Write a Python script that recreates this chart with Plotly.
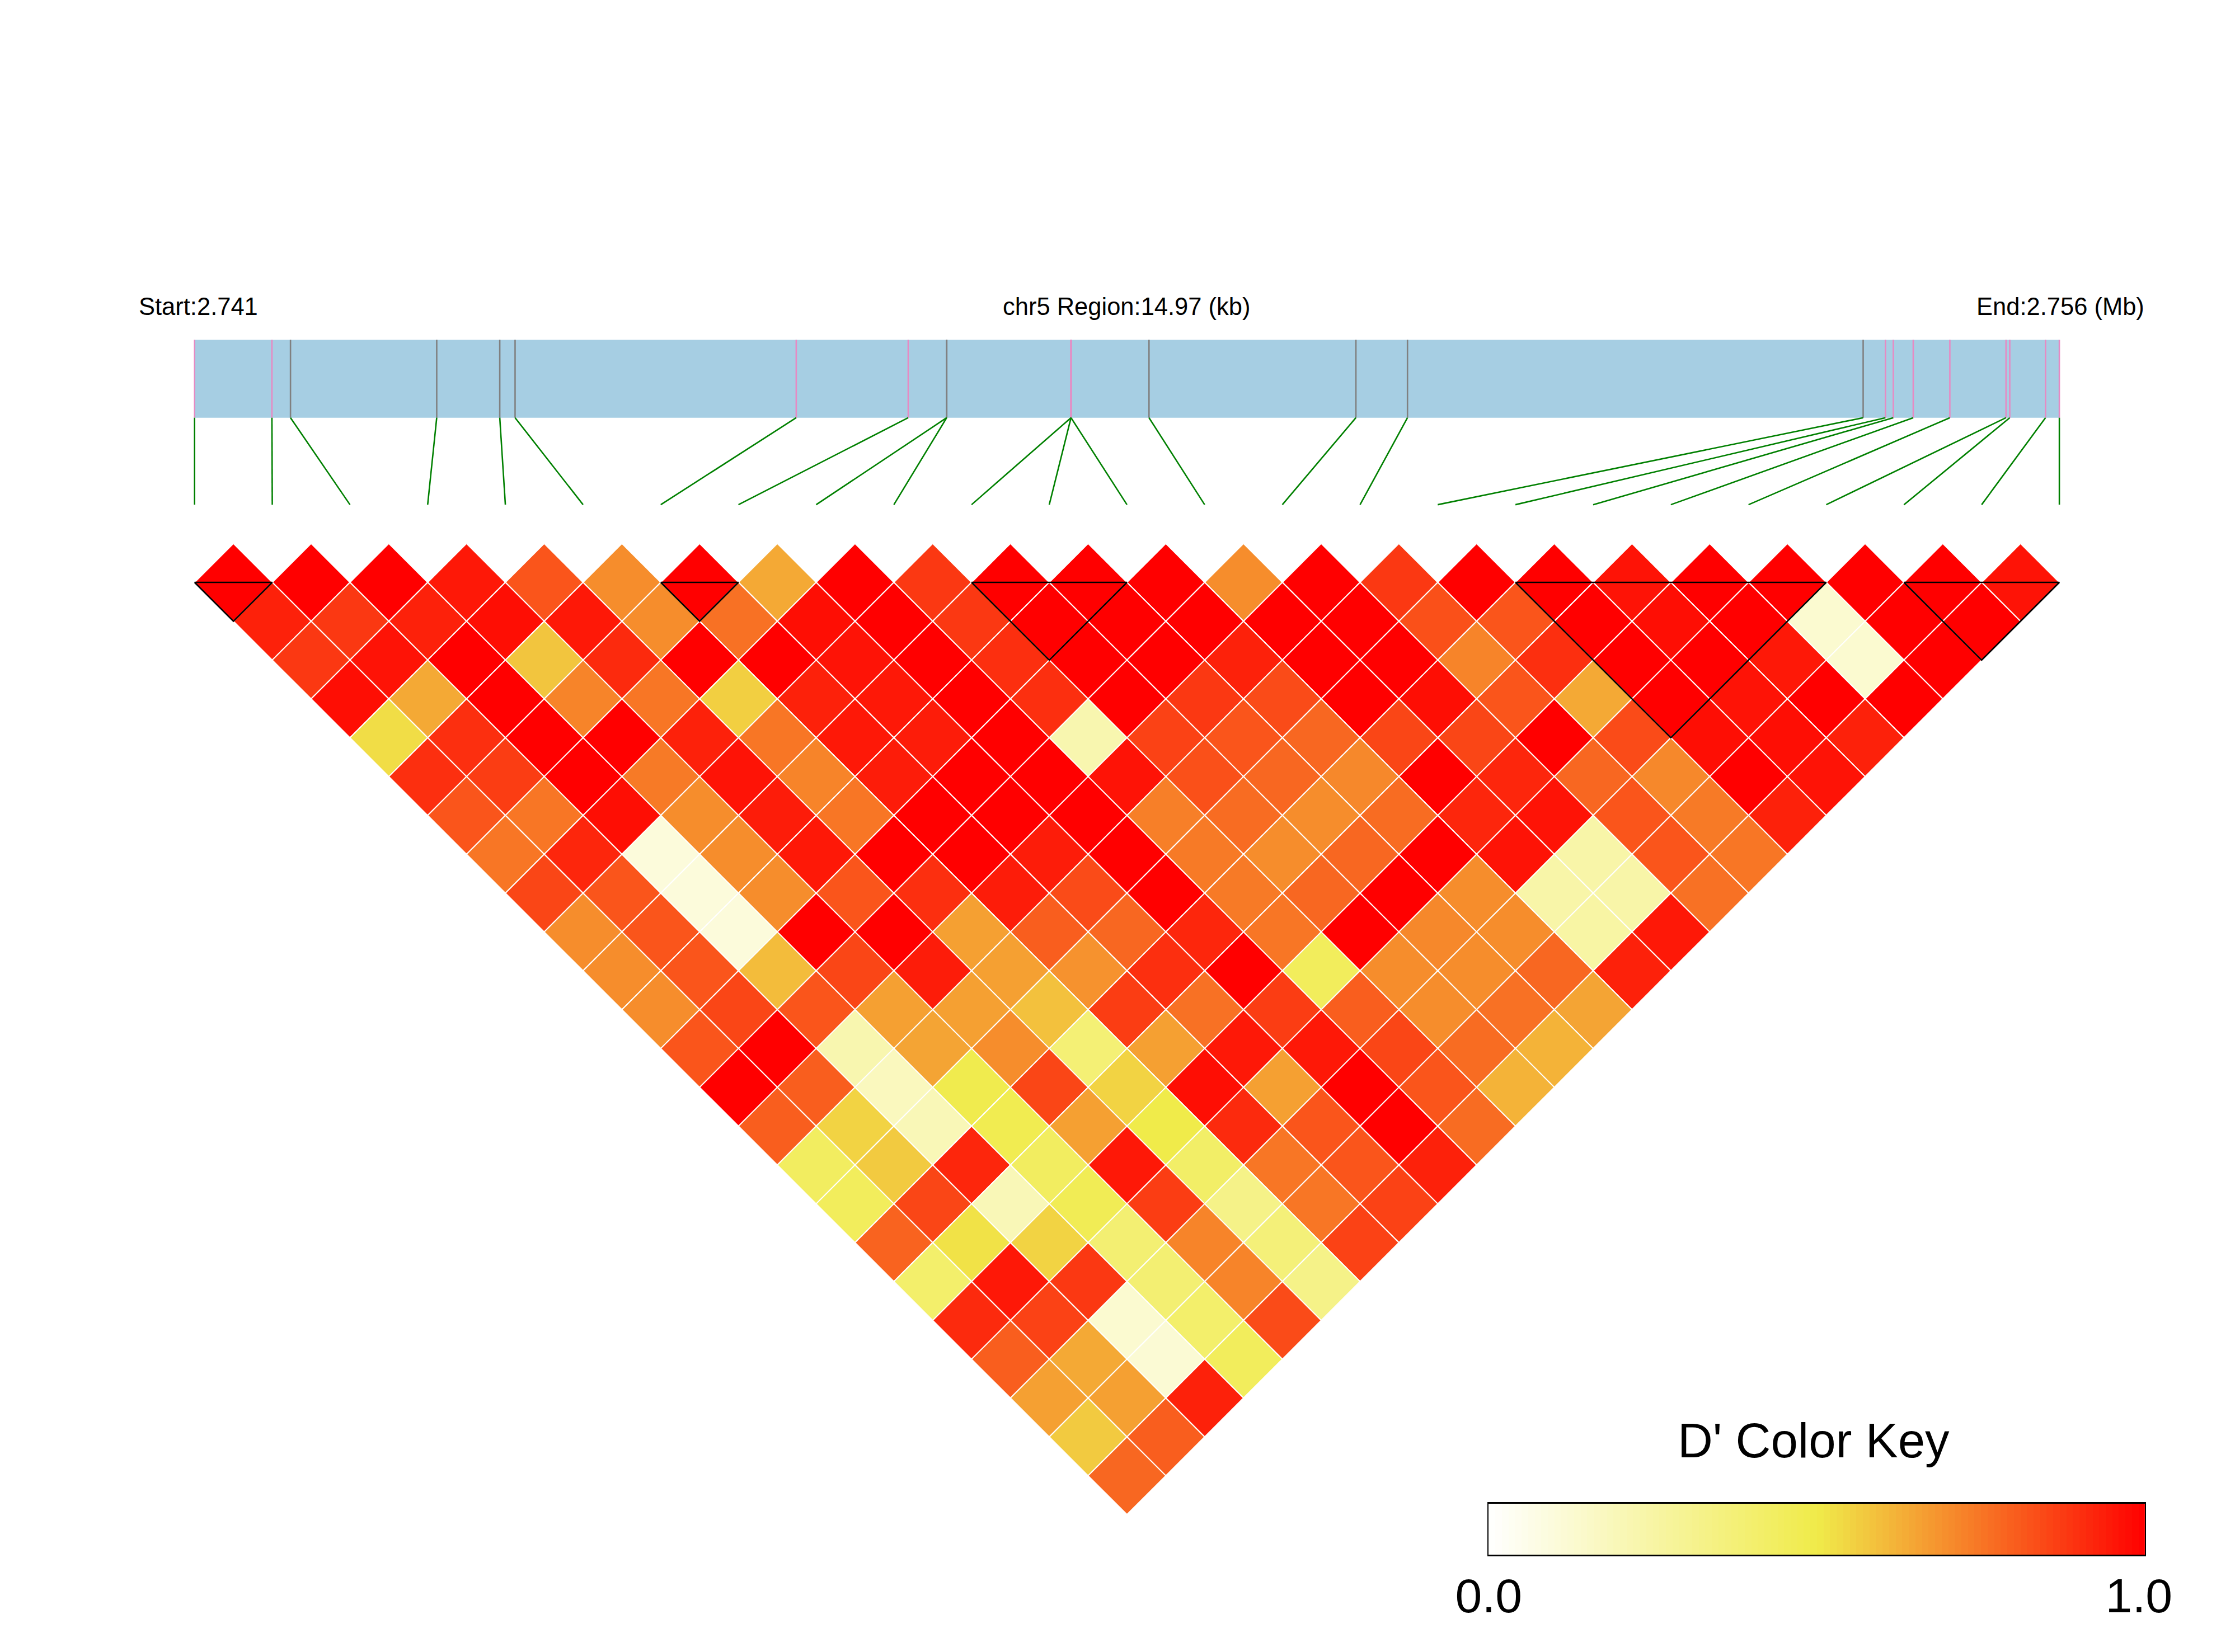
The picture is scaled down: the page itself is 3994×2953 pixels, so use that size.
import numpy as np
import plotly.graph_objects as go
from plotly.colors import sample_colorscale

# genomic offset of each SNP from the region start (kb)
snp_kb = [0, 0.621, 0.770, 1.944, 2.450, 2.573, 4.830, 5.729, 6.038, 6.038, 7.036, 7.036, 7.036,
          7.662, 9.323, 9.737, 13.395, 13.574, 13.637, 13.797, 14.091, 14.542, 14.572, 14.859, 14.97]
snp_pink = [1, 1, 0, 0, 0, 0, 1, 1, 0, 0, 1, 1, 1, 0, 0, 0, 0, 1, 1, 1, 1, 1, 1, 1, 1]
region_kb = 14.97

# D' by separation between SNPs (row_N: pairs i, i+N)
row_01 = [1, 1, 1, .95, .82, .70, 1, .64, 1, .88, 1, 1, 1, .70, 1, .88, 1, 1, .96, 1, 1, 1, 1, .96]
row_02 = [.93, .88, .93, .97, .95, .70, .76, .97, 1, .88, 1, 1, 1, 1, 1, .83, .82, 1, .97, 1, .13, 1, 1]
row_03 = [.88, .96, 1, .58, .91, 1, 1, .96, 1, .9, 1, 1, .93, 1, 1, .72, .9, 1, 1, .95, .13, 1]
row_04 = [.97, .64, 1, .72, .75, .56, .93, .95, 1, .9, 1, .88, .84, 1, .97, .82, .64, 1, .96, 1, 1]
row_05 = [.53, .9, 1, 1, .93, .75, .95, .94, 1, .22, .86, .82, .78, .85, .85, 1, .84, .97, .97, .93]
row_06 = [.9, .87, 1, .74, .96, .72, .94, 1, 1, .96, .83, .78, .71, 1, .92, .78, .71, 1, .96]
row_07 = [.82, .75, .97, .7, .94, .75, 1, 1, 1, .73, .77, .7, .77, .92, .96, .82, .74, .93]
row_08 = [.75, .92, .1, .7, .95, 1, 1, .94, 1, .74, .7, .78, 1, .96, .24, .82, .75]
row_09 = [.85, .82, .1, .7, .82, .9, .94, .84, 1, .74, .78, 1, .7, .24, .24, .76]
row_10 = [.7, .82, .1, 1, 1, .66, .8, .78, .92, .75, 1, .71, .7, .25, .95]
row_11 = [.7, .82, .6, .85, .94, .66, .69, .9, 1, .45, .7, .7, .78, .93]
row_12 = [.7, .85, .82, .66, .66, .59, .87, .76, .87, .8, .7, .76, .65]
row_13 = [.82, 1, .22, .65, .7, .38, .66, .95, .95, .85, .77, .62]
row_14 = [1, .8, .18, .49, .85, .55, .97, .66, 1, .82, .62]
row_15 = [.8, .55, .2, .48, .66, .5, .91, .82, 1, .77]
row_16 = [.44, .57, .92, .44, .95, .42, .75, .82, .93]
row_17 = [.45, .85, .2, .47, .87, .33, .75, .86]
row_18 = [.79, .52, .55, .39, .72, .37, .86]
row_19 = [.41, .95, .88, .39, .72, .33]
row_20 = [.91, .86, .13, .41, .84]
row_21 = [.8, .64, .12, .45]
row_22 = [.66, .66, .93]
row_23 = [.57, .8]
row_24 = [.78]
dprime_rows = [row_01, row_02, row_03, row_04, row_05, row_06, row_07, row_08, row_09, row_10, row_11, row_12,
               row_13, row_14, row_15, row_16, row_17, row_18, row_19, row_20, row_21, row_22, row_23, row_24]

block_first = [0, 6, 10, 17, 22]
block_last = [1, 7, 12, 21, 24]

start_label = "Start:2.741"
mid_label = "chr5 Region:14.97 (kb)"
end_label = "End:2.756 (Mb)"
key_title = "D' Color Key"
key_ticks = [0.0, 0.991]
key_ticklabels = ["0.0", "1.0"]

colorscale = [[0, "#FFFFFF"], [0.5, "#F0EB4A"], [1, "#FF0000"]]

W, H = 3994, 2953
PITCH, HALF = 138.85, 69.43
OFF = 8  # the page body margin offsets the figure in the browser
X0, Y0 = 347.7 - OFF, 1041.0 - OFF
BAR_TOP, BAR_BOTTOM, FAN_BOTTOM = -6.244, -4.239, -2.0


def genome_x(kb):
    return kb / region_kb * (len(snp_kb) - 1)


fig = go.Figure()

# LD cells
for r, row in enumerate(dprime_rows):
    sep = r + 1
    for i, v in enumerate(row):
        cx, cy = i + sep / 2, float(r)
        fig.add_trace(go.Scatter(
            x=[cx, cx + 0.5, cx, cx - 0.5, cx], y=[cy - 1, cy, cy + 1, cy, cy - 1],
            mode="lines", fill="toself", fillcolor=sample_colorscale(colorscale, [v])[0],
            line=dict(color="#FFFFFF", width=2), hoverinfo="skip", showlegend=False))

# haplotype blocks
bx, by = [], []
for a, b in zip(block_first, block_last):
    bx += [a, b, (a + b) / 2, a, None]
    by += [0, 0, b - a, 0, None]
fig.add_trace(go.Scatter(x=bx, y=by, mode="lines", line=dict(color="#000000", width=2.6),
                         hoverinfo="skip", showlegend=False))

# gene bar
fig.add_trace(go.Scatter(
    x=[genome_x(0), genome_x(region_kb), genome_x(region_kb), genome_x(0), genome_x(0)],
    y=[BAR_TOP, BAR_TOP, BAR_BOTTOM, BAR_BOTTOM, BAR_TOP],
    mode="lines", fill="toself", fillcolor="#A6CEE3", line=dict(width=0),
    hoverinfo="skip", showlegend=False))

for flag, col in ((0, "#808080"), (1, "#E78AC3")):
    tx, ty = [], []
    for kb, p in zip(snp_kb, snp_pink):
        if p == flag:
            tx += [genome_x(kb), genome_x(kb), None]
            ty += [BAR_TOP, BAR_BOTTOM, None]
    fig.add_trace(go.Scatter(x=tx, y=ty, mode="lines", line=dict(color=col, width=2.6),
                             hoverinfo="skip", showlegend=False))

gx, gy = [], []
for k, kb in enumerate(snp_kb):
    gx += [genome_x(kb), k, None]
    gy += [BAR_BOTTOM, FAN_BOTTOM, None]
fig.add_trace(go.Scatter(x=gx, y=gy, mode="lines", line=dict(color="#008000", width=2.6),
                         hoverinfo="skip", showlegend=False))

# colour key
levels = np.linspace(0.005, 0.995, 100)
fig.add_trace(go.Heatmap(x=levels, y=[0], z=[levels], xaxis="x2", yaxis="y2", zmin=0, zmax=1,
                         colorscale=colorscale, showscale=False, hoverinfo="skip"))

fig.update_layout(
    template="none",
    width=W, height=H, autosize=False, margin=dict(l=0, r=0, t=0, b=0, pad=0),
    paper_bgcolor="#FFFFFF", plot_bgcolor="rgba(0,0,0,0)", showlegend=False,
    font=dict(family="Liberation Sans", color="#000000"),
    xaxis=dict(range=[-X0 / PITCH, (W - X0) / PITCH], domain=[0, 1], visible=False, fixedrange=True, automargin=False),
    yaxis=dict(range=[(H - Y0) / HALF, -Y0 / HALF], domain=[0, 1], visible=False, fixedrange=True, automargin=False),
    xaxis2=dict(range=[0, 1], domain=[(2660.4 - OFF) / W, (3832.9 - OFF) / W], anchor="y2", tickvals=key_ticks,
                ticktext=key_ticklabels, tickfont=dict(size=86, family="Liberation Sans", color="#000000"),
                ticks="", ticklabelstandoff=-3, showgrid=False, zeroline=False,
                showline=True, linecolor="#000000", linewidth=3, mirror=True, fixedrange=True, automargin=False),
    yaxis2=dict(range=[-0.5, 0.5], domain=[1 - (2779 - OFF) / H, 1 - (2688 - OFF) / H], anchor="x2", visible=True,
                showticklabels=False, ticks="", showgrid=False, zeroline=False,
                showline=True, linecolor="#000000", linewidth=2, mirror=True, fixedrange=True, automargin=False),
    annotations=[
        dict(text=start_label, x=genome_x(0) - 102 / PITCH, y=(548.4 - Y0 - OFF) / HALF, xref="x", yref="y",
             xanchor="left", yanchor="middle", showarrow=False, font=dict(size=43.5)),
        dict(text=mid_label, x=12, y=(548.4 - Y0 - OFF) / HALF, xref="x", yref="y",
             xanchor="center", yanchor="middle", showarrow=False, font=dict(size=43.5)),
        dict(text=end_label, x=24 + 154 / PITCH, y=(548.4 - Y0 - OFF) / HALF, xref="x", yref="y",
             xanchor="right", yanchor="middle", showarrow=False, font=dict(size=43.5)),
        dict(text=key_title, x=(3241 - OFF) / W, y=1 - (2574 - OFF) / H, xref="paper", yref="paper",
             xanchor="center", yanchor="middle", showarrow=False, font=dict(size=87)),
    ],
)
fig.write_html("out.html")
